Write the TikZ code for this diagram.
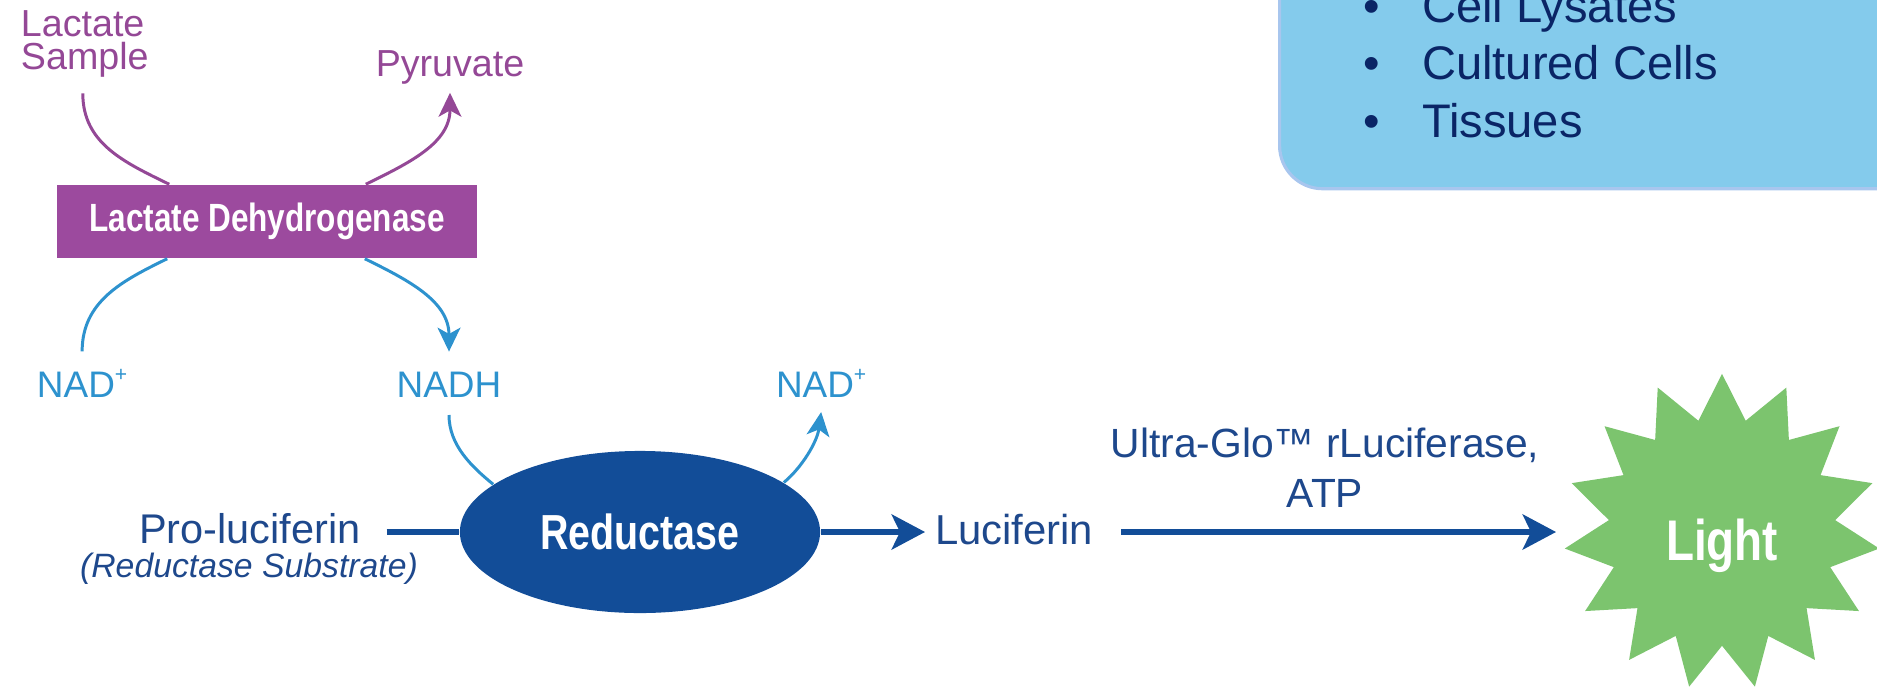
\documentclass[tikz,border=0pt]{standalone}
\usepackage{fontspec}
\setmainfont{Liberation Sans}
\newfontfamily\condfont[FakeStretch=0.8]{Liberation Sans}
\usetikzlibrary{arrows.meta,shapes.geometric,calc}
\definecolor{purp}{RGB}{148,72,150}
\definecolor{ldhfill}{RGB}{156,74,158}
\definecolor{lblue}{RGB}{45,146,206}
\definecolor{dblue}{RGB}{18,77,152}
\definecolor{dtext}{RGB}{30,72,140}
\definecolor{lgreen}{RGB}{124,196,110}
\definecolor{boxfill}{RGB}{132,203,236}
\definecolor{boxline}{RGB}{168,198,238}
\definecolor{navy}{RGB}{10,37,102}
\newcommand{\plussup}{\raisebox{0.42em}{\fontsize{6}{6}\selectfont +}}
\begin{document}
\begin{tikzpicture}[x=0.01cm,y=-0.01cm,
  lbl/.style={inner sep=0pt, outer sep=0pt},
  ptxt/.style={lbl, text=purp, font=\fontsize{10.7}{9.3}\selectfont},
  btxt/.style={lbl, text=lblue, font=\fontsize{10.5}{12}\selectfont},
  dtxt/.style={lbl, text=dtext, font=\fontsize{11.8}{13}\selectfont},
  pline/.style={draw=purp, line width=0.85pt},
  parrow/.style={pline, -{Stealth[length=6.8pt,width=6.5pt,inset=1.8pt]}},
  bline/.style={draw=lblue, line width=0.85pt},
  barrow/.style={bline, -{Stealth[length=6.8pt,width=6.5pt,inset=1.8pt]}},
  dline/.style={draw=dblue, line width=1.5pt},
  darrow/.style={dline, -{Stealth[length=9.5pt,width=10pt,inset=2.4pt]}},
  item/.style={lbl, text=navy, anchor=base west, font=\fontsize{13.4}{16}\selectfont},
  bold/.style={text=white, font=\condfont\bfseries\fontsize{#1}{#1}\selectfont},
]
\useasboundingbox (0,0) rectangle (1877,688);
\clip (0,0) rectangle (1877,688);

% sample box
\node[draw=boxline, line width=0.9pt, fill=boxfill, rounded corners=0.43cm,
      minimum width=6.72cm, minimum height=2.47cm, anchor=north west] (samples) at (1278,-60) {};
\node[item] (it1) at (1363,23) {\makebox[0.59cm][l]{\textbullet}Cell Lysates};
\node[item] (it2) at (1363,80) {\makebox[0.59cm][l]{\textbullet}Cultured Cells};
\node[item] (it3) at (1363,137) {\makebox[0.59cm][l]{\textbullet}Tissues};

% top reaction
\node[ptxt, align=left, anchor=north west] (lac) at (21,11) {Lactate\\Sample};
\node[ptxt, anchor=base] (pyr) at (450,77) {Pyruvate};
\node[fill=ldhfill, minimum width=4.2cm, minimum height=0.73cm, inner sep=0pt,
      bold=11.2] (ldh) at (267,221.5) {Lactate Dehydrogenase};

\node[btxt, anchor=base west] (nadA) at (37,397) {NAD\plussup};
\node[btxt, anchor=base] (nadh) at (449,397) {NADH};
\node[btxt, anchor=base west] (nadB) at (776,397) {NAD\plussup};

\draw[pline] ([xshift=-0.02cm,yshift=-0.16cm]lac.south) .. controls +(0,50) and +(-45,-22) .. ([xshift=1.13cm]ldh.north west);
\draw[parrow] ([xshift=-1.12cm]ldh.north east) .. controls +(45,-22) and +(0,50) .. ([yshift=-0.08cm]pyr.south);
\draw[bline] ([yshift=0.18cm]nadA.north) .. controls +(0,-50) and +(-45,22) .. ([xshift=1.11cm]ldh.south west);
\draw[barrow] ([xshift=-1.13cm]ldh.south east) .. controls +(45,22) and +(0,-50) .. ([yshift=0.2cm]nadh.north);

% reductase
\node[ellipse, fill=dblue, minimum width=3.6cm, minimum height=1.62cm, inner sep=0pt,
      bold=14] (red) at (640,532) {Reductase};
\node[dtxt, anchor=base] (pro) at (250,543) {Pro-luciferin};
\node[lbl, text=dtext, font=\itshape\fontsize{9.6}{11}\selectfont, anchor=base] (sub) at (249,577) {(Reductase Substrate)};
\node[dtxt, font=\fontsize{11.9}{13}\selectfont, anchor=base west] (luc) at (935,544) {Luciferin};
\node[lbl, text=dtext, font=\fontsize{11.6}{14}\selectfont, align=center, anchor=south] (ultra) at (1325,507) {Ultra-Glo™ rLuciferase,\\ATP};

\draw[bline] ([yshift=-0.18cm]nadh.south) .. controls +(0,30) and +(-22,-18) .. (red.162);
\draw[barrow] (red.19) .. controls +(18,-15) and +(-4,30) .. ([yshift=-0.15cm]nadB.south);

\draw[dline] (pro.east |- red.west) ++(26,0) -- (red.west);
\draw[darrow, shorten >=0.1cm] (red.east) -- (red.east -| luc.west);

% light
\node[star, star points=15, star point ratio=1.39, minimum size=3.16cm, fill=lgreen, inner sep=0pt] (star) at (1722,532) {};
\node[lbl, bold=16.3, anchor=base] (light) at (1722,560) {Light};
\draw[darrow] (luc.east |- red.east) ++(28,0) -- ($(star.center)+(-166,0)$);
\end{tikzpicture}
\end{document}
